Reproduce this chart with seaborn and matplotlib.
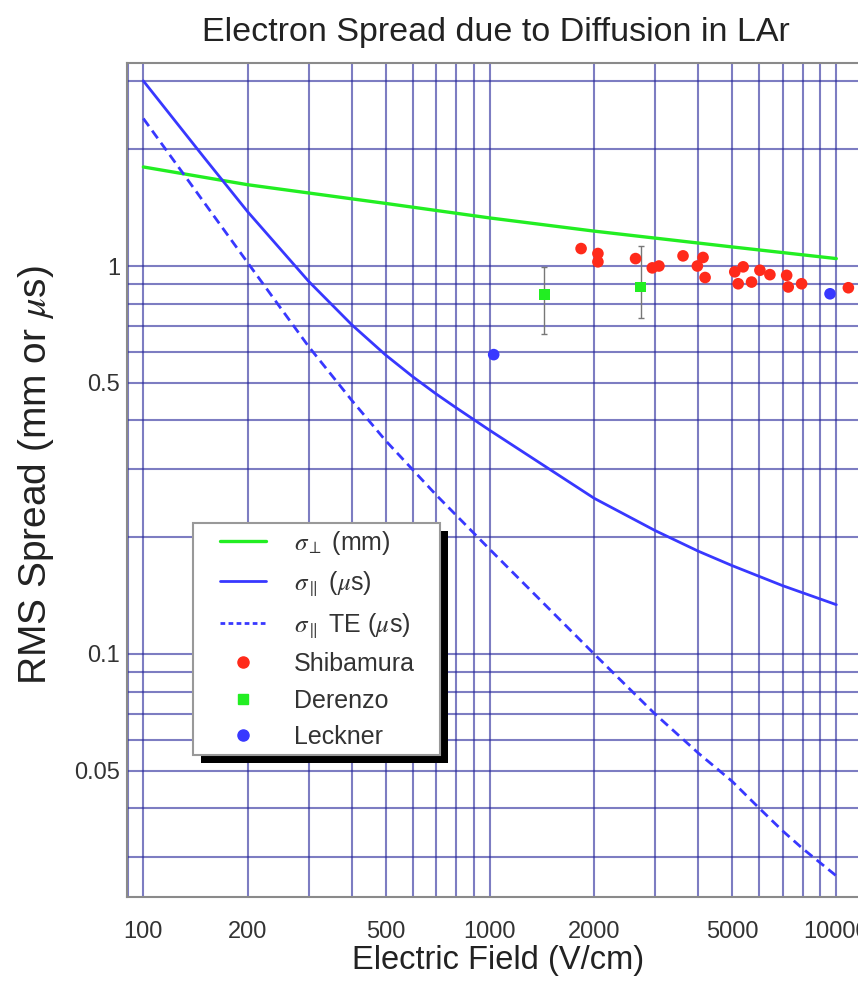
import matplotlib
matplotlib.use("Agg")
import matplotlib.pyplot as plt
import seaborn as sns
from matplotlib.lines import Line2D
from matplotlib.patches import Rectangle
from matplotlib.ticker import LogLocator, NullFormatter, FixedLocator

# ---- data ----
field_perp = [100, 200, 500, 1000, 2000, 5000, 10000]
sigma_perp = [1.80, 1.62, 1.45, 1.33, 1.23, 1.12, 1.045]

field_par = [100, 150, 200, 300, 400, 500, 600, 700, 800, 1000, 2000, 3000, 4000, 5000, 7000, 10000]
sigma_par = [3.0, 1.90, 1.38, 0.913, 0.705, 0.590, 0.518, 0.468, 0.431, 0.377,
             0.252, 0.208, 0.184, 0.169, 0.150, 0.134]

field_te = [100, 200, 300, 400, 500, 700, 1000, 2000, 3000, 4000, 5000, 6000, 7000, 8000, 10000]
sigma_te = [2.40, 1.02, 0.62, 0.45, 0.355, 0.257, 0.186, 0.100, 0.070, 0.0555,
            0.047, 0.040, 0.035, 0.0315, 0.0268]

shib_field = [1834, 2051, 2051, 2634, 2944, 3077, 3611, 3972, 4125, 4181,
              5093, 5210, 5385, 5693, 6019, 6432, 7190, 7266, 7940, 10835]
shib_sigma = [1.109, 1.077, 1.025, 1.045, 0.989, 1.0, 1.062, 1.0, 1.052, 0.934,
              0.966, 0.900, 0.995, 0.909, 0.975, 0.950, 0.946, 0.883, 0.900, 0.879]

der_field = [1438, 2724]
der_sigma = [0.845, 0.883]
der_low = [0.668, 0.734]
der_high = [0.995, 1.125]

leck_field = [1026, 9592]
leck_sigma = [0.591, 0.848]

x_ticks = [100, 200, 500, 1000, 2000, 5000, 10000]
x_labels = ["100", "200", "500", "1000", "2000", "5000", "10000"]
y_ticks = [0.05, 0.1, 0.5, 1]
y_labels = ["0.05", "0.1", "0.5", "1"]

GREEN = "#22ee22"
BLUE = "#3838ff"
RED = "#ff2a1a"
TXT = "#333333"

sns.set_theme(style="white")
plt.rcParams["font.family"] = ["Liberation Sans", "DejaVu Sans"]
plt.rcParams["mathtext.fontset"] = "stix"

fig = plt.figure(figsize=(8.58, 9.83), dpi=100)
ax = fig.add_axes([127 / 858, 1 - 897 / 983, 738.6 / 858, 834 / 983])
ax.set_xscale("log")
ax.set_yscale("log")

sns.lineplot(x=field_perp, y=sigma_perp, ax=ax, color=GREEN, lw=2.4, zorder=3)
sns.lineplot(x=field_par, y=sigma_par, ax=ax, color=BLUE, lw=2.0, zorder=3)
sns.lineplot(x=field_te, y=sigma_te, ax=ax, color=BLUE, lw=2.0, zorder=3,
             linestyle=(0, (3.4, 2.0)))

ax.errorbar(der_field, der_sigma,
            yerr=[[s - lo for s, lo in zip(der_sigma, der_low)],
                  [hi - s for s, hi in zip(der_sigma, der_high)]],
            fmt="none", ecolor="#777777", elinewidth=1.0, capsize=2.5, zorder=3)
sns.scatterplot(x=shib_field, y=shib_sigma, ax=ax, color=RED, s=70,
                edgecolor="none", marker="o", zorder=4)
sns.scatterplot(x=der_field, y=der_sigma, ax=ax, color=GREEN, s=55,
                edgecolor="none", marker="s", zorder=4)
sns.scatterplot(x=leck_field, y=leck_sigma, ax=ax, color=BLUE, s=70,
                edgecolor="none", marker="o", zorder=4)

ax.set_xlim(89.7, 12150)
ax.set_ylim(0.02364, 3.336)

ax.xaxis.set_major_locator(FixedLocator(x_ticks))
ax.set_xticklabels(x_labels)
ax.xaxis.set_minor_locator(LogLocator(base=10, subs=range(2, 10)))
ax.xaxis.set_minor_formatter(NullFormatter())
ax.yaxis.set_major_locator(FixedLocator(y_ticks))
ax.set_yticklabels(y_labels)
ax.yaxis.set_minor_locator(LogLocator(base=10, subs=range(2, 10)))
ax.yaxis.set_minor_formatter(NullFormatter())

ax.grid(True, which="both", color="#26269a", alpha=0.6, lw=1.5, zorder=0)
ax.set_axisbelow(True)
ax.tick_params(which="both", length=0, colors=TXT, labelsize=17)
ax.tick_params(axis="x", pad=17.3)
ax.tick_params(axis="y", pad=5)
for side in ["left", "bottom", "top"]:
    ax.spines[side].set_color("#8a8a8a")
    ax.spines[side].set_linewidth(1.5)
ax.spines["right"].set_visible(False)

ax.set_title("Electron Spread due to Diffusion in LAr", fontsize=24.5,
             color="#222222", pad=15.5)
ax.set_xlabel("Electric Field (V/cm)", fontsize=23.5, color="#222222")
ax.xaxis.set_label_coords(0.502, -0.0576)
ax.set_ylabel(r"RMS Spread (mm or $\mu$s)", fontsize=28, color="#222222")
ax.yaxis.set_label_coords(-0.096, 0.506)

# legend box with a black drop shadow
ax.add_patch(Rectangle((0.1002, 0.1607), 0.3344, 0.2782, transform=ax.transAxes,
                       facecolor="black", edgecolor="none", zorder=5, clip_on=False))
ax.add_patch(Rectangle((0.0894, 0.1703), 0.3344, 0.2782, transform=ax.transAxes,
                       facecolor="white", edgecolor="#999999", lw=1.5, zorder=5.5,
                       clip_on=False))

handles = [
    Line2D([], [], color=GREEN, lw=2.4),
    Line2D([], [], color=BLUE, lw=2.0),
    Line2D([], [], color=BLUE, lw=2.0, linestyle=(0, (1.7, 1.2))),
    Line2D([], [], ls="none", marker="o", color=RED, ms=8),
    Line2D([], [], ls="none", marker="s", color=GREEN, ms=7),
    Line2D([], [], ls="none", marker="o", color=BLUE, ms=8),
]
labels = [r"$\sigma_\perp$ (mm)", r"$\sigma_\parallel$ ($\mu$s)",
          r"$\sigma_\parallel$ TE ($\mu$s)", "Shibamura", "Derenzo", "Leckner"]
leg = ax.legend(handles, labels, loc="upper left", bbox_to_anchor=(0.1259, 0.4412),
                borderaxespad=0, fontsize=18, frameon=False, labelspacing=0.5,
                handlelength=1.85, handletextpad=1.1, borderpad=0, numpoints=1)
for t in leg.get_texts():
    t.set_color(TXT)
leg.set_zorder(6)

fig.savefig("out.png", dpi=100)
